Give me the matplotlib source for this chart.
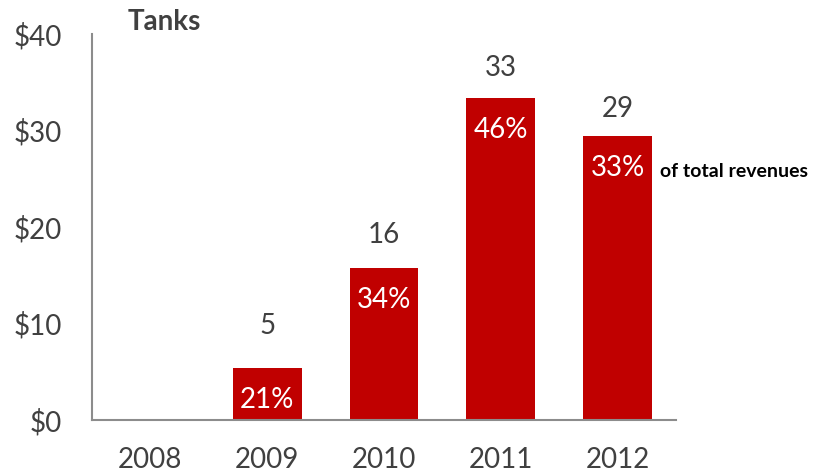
import matplotlib.pyplot as plt
import numpy as np

plt.rcParams['font.family'] = ['Lato', 'DejaVu Sans']

# Tank revenues ($) by year, with share of total revenues
years = ['2008', '2009', '2010', '2011', '2012']
revenue = [0, 5.4, 15.8, 33.4, 29.4]
share = ['', '21%', '34%', '46%', '33%']
yticks = [0, 10, 20, 30, 40]
ytick_labels = ['$0', '$10', '$20', '$30', '$40']

# distance (px) of the value label above each bar
label_lift = [0, 42, 33, 30, 27]

red = '#C00000'
grey = '#404040'
px = 0.72  # points per pixel at 100 dpi

fig = plt.figure(figsize=(8.13, 4.75), dpi=100)
ax = fig.add_axes([0.1132, 0.1158, 0.7183, 0.8126])

x = np.arange(len(years))
bars = ax.bar(x, revenue, width=0.59, color=red, zorder=2)

ax.set_xlim(-0.5, len(years) - 0.5)
ax.set_ylim(0, 40)
ax.set_yticks(yticks)
ax.set_yticklabels(ytick_labels)
ax.set_xticks(x)
ax.set_xticklabels(years)
ax.tick_params(axis='both', length=0, labelsize=20, colors=grey)
ax.tick_params(axis='y', pad=30 * px)
ax.tick_params(axis='x', pad=27 * px)

for s in ['top', 'right']:
    ax.spines[s].set_visible(False)
for s in ['left', 'bottom']:
    ax.spines[s].set_color('#8C8C8C')
    ax.spines[s].set_linewidth(1.5)

for i, (v, pct) in enumerate(zip(revenue, share)):
    if v <= 0:
        continue
    ax.annotate(f'{v:.0f}', (x[i], v), xytext=(0, label_lift[i] * px),
                textcoords='offset points', ha='center', va='center',
                fontsize=20, color=grey)
    ax.annotate(pct, (x[i], v), xytext=(0, -32 * px),
                textcoords='offset points', ha='center', va='center',
                fontsize=20, color='white')

# note next to the last bar
ax.annotate('of total revenues', (x[-1] + 0.295, revenue[-1]), xytext=(8 * px, -35 * px),
            textcoords='offset points', ha='left', va='center',
            fontsize=14, fontweight='bold', color='black', annotation_clip=False)

fig.text(128 / 813, 1 - 22 / 475, 'Tanks', ha='left', va='center',
         fontsize=20, fontweight='bold', color=grey)

fig.savefig('out.png', dpi=100)
